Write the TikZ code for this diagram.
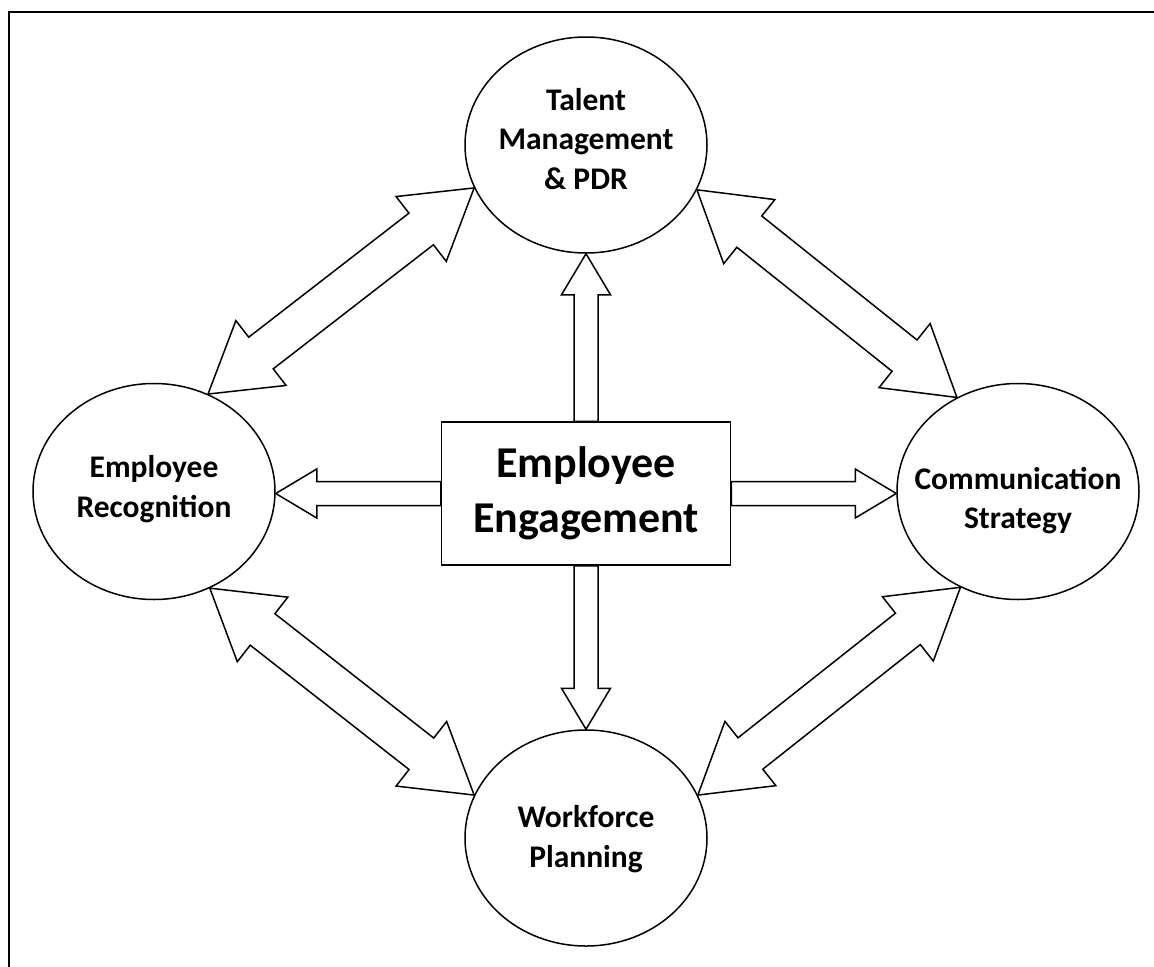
\documentclass[tikz,border=0pt]{standalone}
\usepackage{fontspec}
\setmainfont{Carlito}
\usetikzlibrary{shapes.geometric,calc}
\newcommand\blkone[2]{%
  \draw[blk] ($(#1)!12bp!90:(#2)$)
    -- ($(#2)!41bp!(#1)!12bp!-90:(#1)$)
    -- ($(#2)!41bp!(#1)!24.5bp!-90:(#1)$)
    -- (#2)
    -- ($(#2)!41bp!(#1)!24.5bp!90:(#1)$)
    -- ($(#2)!41bp!(#1)!12bp!90:(#1)$)
    -- ($(#1)!12bp!-90:(#2)$) -- cycle;}
\newcommand\blktwo[2]{%
  \draw[blk] (#1)
    -- ($(#1)!67bp!(#2)!41bp!90:(#2)$)
    -- ($(#1)!67bp!(#2)!20bp!90:(#2)$)
    -- ($(#2)!67bp!(#1)!20bp!-90:(#1)$)
    -- ($(#2)!67bp!(#1)!41bp!-90:(#1)$)
    -- (#2)
    -- ($(#2)!67bp!(#1)!41bp!90:(#1)$)
    -- ($(#2)!67bp!(#1)!20bp!90:(#1)$)
    -- ($(#1)!67bp!(#2)!20bp!-90:(#2)$)
    -- ($(#1)!67bp!(#2)!41bp!-90:(#2)$) -- cycle;}
\begin{document}
\begin{tikzpicture}[x=1bp,y=-1bp,
  circ/.style={ellipse, draw, line width=1.5bp, minimum width=242bp, minimum height=216bp, inner sep=0pt},
  lbl/.style={align=center, inner sep=0pt, font=\bfseries\fontsize{31.5bp}{39.5bp}\selectfont},
  hub/.style={rectangle, draw, line width=1.5bp, minimum width=289bp, minimum height=143bp, inner sep=0pt, align=center, font=\bfseries\fontsize{44bp}{55bp}\selectfont},
  blk/.style={draw, line width=1.5bp, line join=miter},
  outerline/.style={line width=2bp}]
\useasboundingbox (0,0) rectangle (1154,967);
\coordinate (f1) at (9,967);
\coordinate (f2) at (9,12);
\coordinate (f3) at (1154,12);
\draw[outerline] (f1) -- (f2) -- (f3);

\node[circ] (T) at (586,145) {};
\node[circ] (R) at (154,491.5) {};
\node[circ] (C) at (1018,491.5) {};
\node[circ] (W) at (586,838) {};
\node[hub] (H) at (586,493.5) {Employee\\Engagement};

\node[lbl] (tT) at ($(T.center)+(0,-6)$) {Talent\\Management\\\& PDR};
\node[lbl] (tR) at ($(R.center)+(0,-2.5)$) {Employee\\Recognition};
\node[lbl] (tC) at ($(C.center)+(0,9)$) {Communication\\Strategy};
\node[lbl] (tW) at ($(W.center)+(0,1)$) {Workforce\\Planning};

\coordinate (hl) at (H.west);
\coordinate (hr) at (H.east);
\coordinate (el) at (R.east |- H.west);
\coordinate (er) at (C.west |- H.east);
\blkone{H.north}{T.south}
\blkone{H.south}{W.north}
\blkone{hl}{el}
\blkone{hr}{er}

\blktwo{R.61}{T.201}
\blktwo{T.338}{C.123}
\blktwo{R.300}{W.159}
\blktwo{W.21}{C.239}
\end{tikzpicture}
\end{document}
